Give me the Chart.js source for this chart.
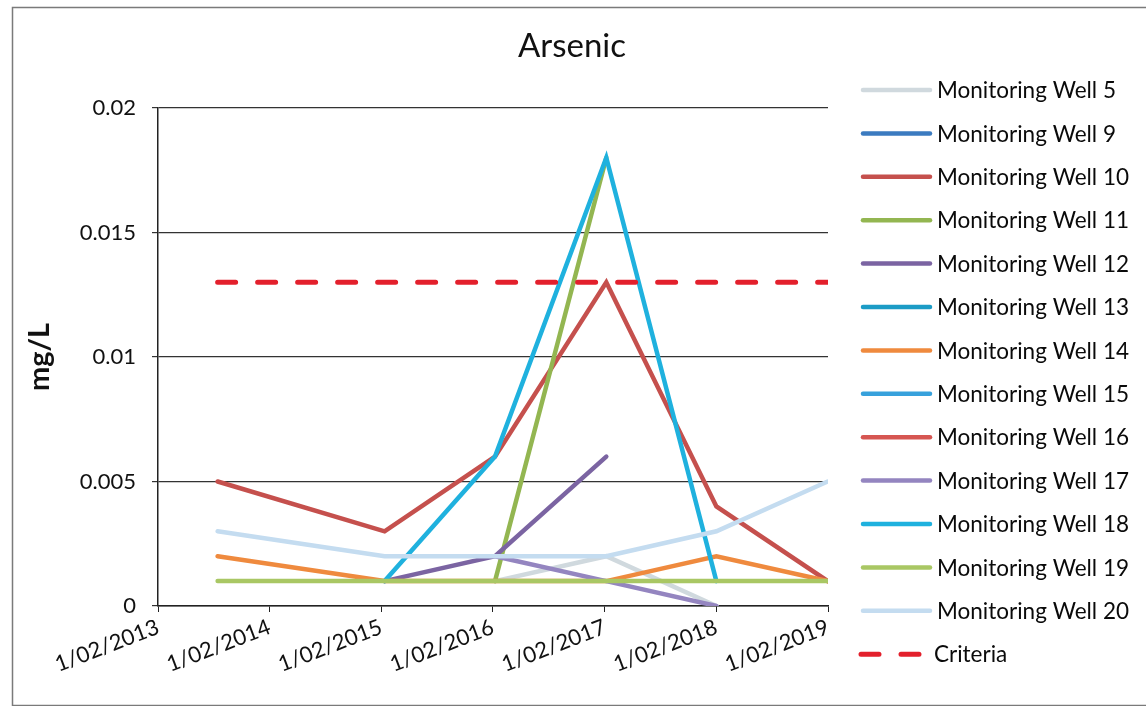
<!DOCTYPE html>
<html>
<head>
<meta charset="utf-8">
<title>Arsenic</title>
<script src="https://cdn.jsdelivr.net/npm/chart.js@4.4.1/dist/chart.umd.min.js"></script>
<style>
  html, body { margin: 0; padding: 0; background: #ffffff; }
  #wrap { width: 1146px; height: 706px; }
</style>
</head>
<body>
<div id="wrap"><canvas id="chart" width="1146" height="706"></canvas></div>
<script>
// Sampling dates (ISO) and axis label dates (1 February each year)
const sampleDates = ['2013-08-15', '2015-02-12', '2016-02-08', '2017-02-06', '2018-02-01', '2019-01-31'];
const tickDates = ['2013-02-01', '2014-02-01', '2015-02-01', '2016-02-01', '2017-02-01', '2018-02-01', '2019-02-01'];
const tickLabels = ['1/02/2013', '1/02/2014', '1/02/2015', '1/02/2016', '1/02/2017', '1/02/2018', '1/02/2019'];
const yTickValues = [0, 0.005, 0.01, 0.015, 0.02];
const yTickLabels = ['0', '0.005', '0.01', '0.015', '0.02'];

// Arsenic results, mg/L (null = no sample)
const well5  = [null, null, 0.001, 0.002, 0, null];
const well9  = [null, null, null, null, null, null];
const well10 = [0.005, 0.003, 0.006, 0.013, 0.004, 0.001];
const well11 = [null, null, 0.001, 0.018, null, null];
const well12 = [null, 0.001, 0.002, 0.006, null, null];
const well13 = [null, null, null, null, null, null];
const well14 = [0.002, 0.001, 0.001, 0.001, 0.002, 0.001];
const well15 = [null, null, null, null, null, null];
const well16 = [null, null, null, null, null, null];
const well17 = [null, null, 0.002, 0.001, 0, null];
const well18 = [null, 0.001, 0.006, 0.018, 0.001, null];
const well19 = [0.001, 0.001, 0.001, 0.001, 0.001, 0.001];
const well20 = [0.003, 0.002, 0.002, 0.002, 0.003, 0.005];

// Guideline value and the span it is drawn over
const criteriaValue = 0.013;
const criteriaDates = ['2013-08-15', '2019-02-01'];

const chartTitle = 'Arsenic';

const toMs = s => Date.parse(s + 'T00:00:00Z');

function wellSeries(label, values, color) {
  return {
    label: label,
    data: values.map((v, i) => ({ x: toMs(sampleDates[i]), y: v })),
    borderColor: color,
    backgroundColor: color,
    borderWidth: 4.5,
    borderCapStyle: 'round',
    borderJoinStyle: 'miter',
    pointRadius: 0,
    pointHoverRadius: 0,
    tension: 0,
    spanGaps: false,
    fill: false
  };
}

const datasets = [
  wellSeries('Monitoring Well 5',  well5,  '#d0d9de'),
  wellSeries('Monitoring Well 9',  well9,  '#3b7bc0'),
  wellSeries('Monitoring Well 10', well10, '#c5504d'),
  wellSeries('Monitoring Well 11', well11, '#93b651'),
  wellSeries('Monitoring Well 12', well12, '#7b64a2'),
  wellSeries('Monitoring Well 13', well13, '#1c9cc6'),
  wellSeries('Monitoring Well 14', well14, '#ef8a3e'),
  wellSeries('Monitoring Well 15', well15, '#37a1dc'),
  wellSeries('Monitoring Well 16', well16, '#d65652'),
  wellSeries('Monitoring Well 17', well17, '#9485c0'),
  wellSeries('Monitoring Well 18', well18, '#1fb1de'),
  wellSeries('Monitoring Well 19', well19, '#a9c764'),
  wellSeries('Monitoring Well 20', well20, '#c4dcf0'),
  {
    label: 'Criteria',
    data: criteriaDates.map(d => ({ x: toMs(d), y: criteriaValue })),
    borderColor: '#e3202c',
    backgroundColor: '#e3202c',
    borderWidth: 5,
    borderDash: [18, 22],
    borderCapStyle: 'round',
    pointRadius: 0,
    pointHoverRadius: 0,
    fill: false
  }
];
// later series sit on top of earlier ones
datasets.forEach((d, i) => { d.order = datasets.length - i; });

const FONT = 'Lato, "Open Sans", sans-serif';

// white card with a thin grey frame and the centred heading
const framePlugin = {
  id: 'frame',
  beforeDraw(chart) {
    const ctx = chart.ctx;
    ctx.save();
    ctx.fillStyle = '#ffffff';
    ctx.fillRect(0, 0, chart.width, chart.height);
    ctx.strokeStyle = '#7a7a7a';
    ctx.lineWidth = 1.5;
    ctx.strokeRect(12.5, 7.5, chart.width - 10, chart.height - 8);
    ctx.fillStyle = '#111111';
    ctx.font = '33px ' + FONT;
    ctx.textAlign = 'center';
    ctx.textBaseline = 'middle';
    ctx.fillText(chartTitle, 572, 46);
    ctx.restore();
  }
};

// series key on the right, one row per dataset
const keyPlugin = {
  id: 'seriesKey',
  afterDraw(chart) {
    const ctx = chart.ctx;
    const x0 = 863, x1 = 930, tx = 937, y0 = 90, step = 43.4;
    ctx.save();
    ctx.font = '22.5px ' + FONT;
    ctx.textBaseline = 'middle';
    ctx.textAlign = 'left';
    chart.data.datasets.forEach((ds, i) => {
      const y = y0 + i * step;
      ctx.beginPath();
      ctx.strokeStyle = ds.borderColor;
      ctx.lineWidth = ds.borderDash ? 5 : 4.5;
      ctx.lineCap = 'round';
      ctx.setLineDash(ds.borderDash ? [18, 22] : []);
      ctx.moveTo(ds.borderDash ? x0 - 2 : x0, y);
      ctx.lineTo(ds.borderDash ? 920 : x1, y);
      ctx.stroke();
      ctx.setLineDash([]);
      ctx.fillStyle = '#0a0a0a';
      ctx.fillText(ds.label, ds.borderDash ? 934 : tx, y + 1);
    });
    ctx.restore();
  }
};

new Chart(document.getElementById('chart'), {
  type: 'line',
  data: { datasets: datasets },
  plugins: [framePlugin, keyPlugin],
  options: {
    responsive: false,
    animation: false,
    events: [],
    layout: { padding: { left: 12, right: 318, top: 108, bottom: 0 } },
    plugins: {
      legend: { display: false },
      tooltip: { enabled: false },
      title: { display: false }
    },
    scales: {
      x: {
        type: 'linear',
        min: toMs(tickDates[0]),
        max: toMs(tickDates[tickDates.length - 1]),
        afterBuildTicks(scale) {
          scale.ticks = tickDates.map(d => ({ value: toMs(d) }));
        },
        afterFit(scale) { scale.height = 100; },
        grid: {
          drawOnChartArea: false,
          drawTicks: true,
          tickLength: 6,
          color: '#222222',
          lineWidth: 1
        },
        border: { display: true, color: '#222222', width: 1.5 },
        ticks: {
          autoSkip: false,
          maxRotation: 21,
          minRotation: 21,
          padding: 2,
          color: '#111111',
          font: { family: FONT, size: 22 },
          callback(value, index) { return tickLabels[index]; }
        }
      },
      y: {
        type: 'linear',
        min: yTickValues[0],
        max: yTickValues[yTickValues.length - 1],
        afterBuildTicks(scale) {
          scale.ticks = yTickValues.map(v => ({ value: v }));
        },
        afterFit(scale) { scale.width = 146; },
        grid: {
          drawOnChartArea: true,
          drawTicks: true,
          tickLength: 6,
          color: '#333333',
          lineWidth: 1.2
        },
        border: { display: true, color: '#222222', width: 1.5 },
        ticks: {
          padding: 16,
          color: '#111111',
          font: { family: FONT, size: 22 },
          callback(value, index) { return yTickLabels[index]; }
        },
        title: {
          display: true,
          text: 'mg/L',
          color: '#111111',
          font: { family: FONT, size: 29, weight: 'bold' },
          padding: { top: 10, bottom: 0 }
        }
      }
    }
  }
});
</script>
</body>
</html>
